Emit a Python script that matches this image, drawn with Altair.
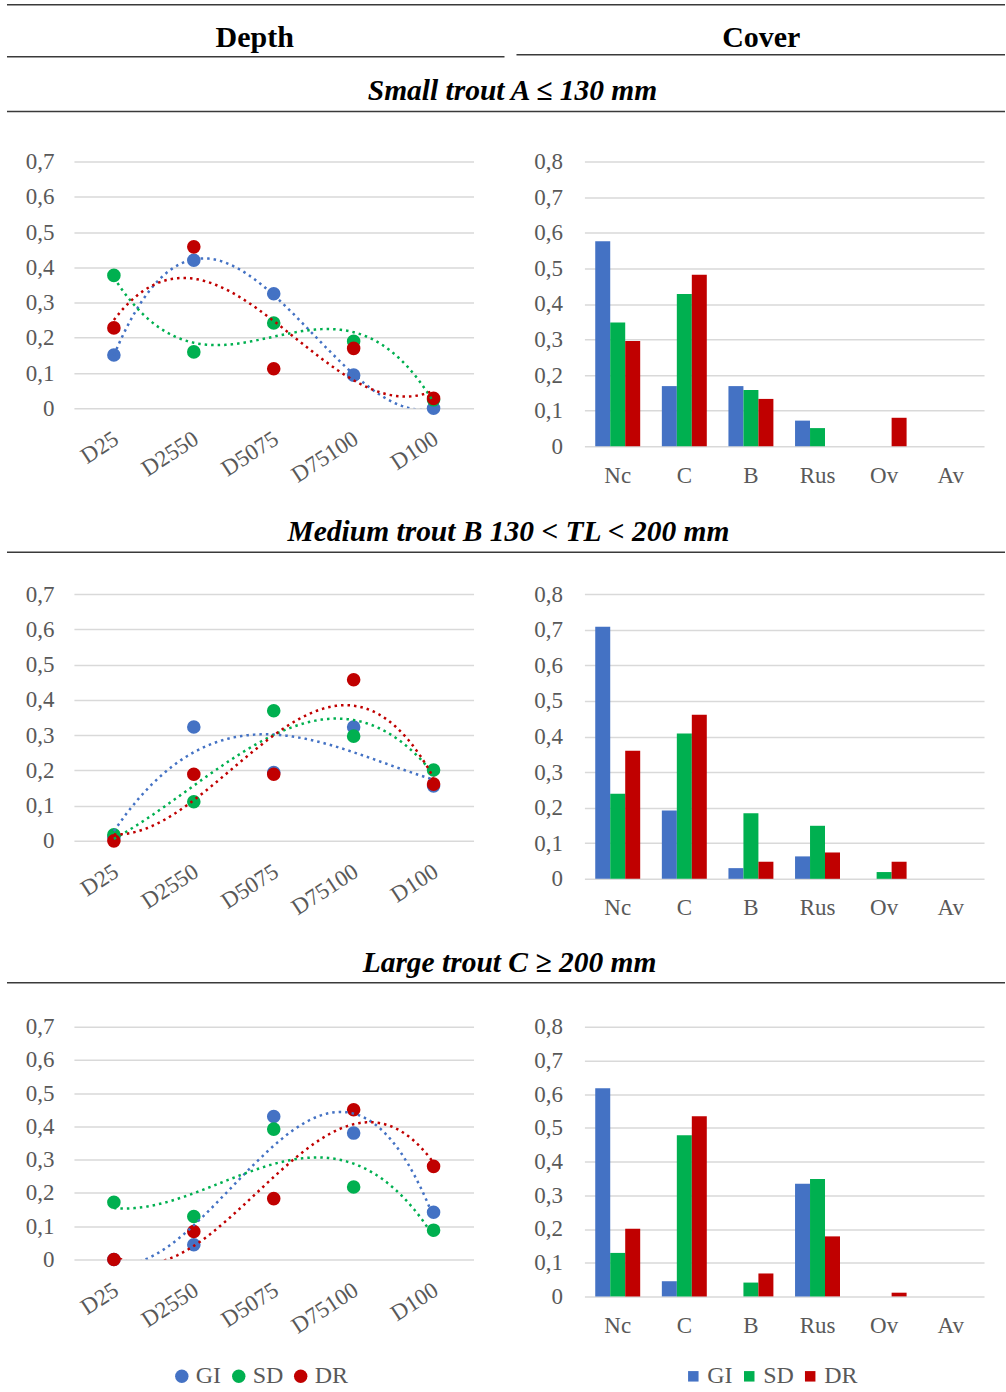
import json
import altair as alt
import pandas as pd

# ---------------- data ----------------
depth_cats = ["D25", "D2550", "D5075", "D75100", "D100"]
cover_cats = ["Nc", "C", "B", "Rus", "Ov", "Av"]
series_names = ["GI", "SD", "DR"]
series_colors = ["#4472C4", "#00B050", "#C00000"]
col_headers = ["Depth", "Cover"]
row_titles = ["Small trout A \u2264 130 mm",
              "Medium trout B 130 < TL < 200 mm",
              "Large trout C \u2265 200 mm"]
depth_ticks = [0, 0.1, 0.2, 0.3, 0.4, 0.5, 0.6, 0.7]
cover_ticks = [0, 0.1, 0.2, 0.3, 0.4, 0.5, 0.6, 0.7, 0.8]

small_depth_gi = [0.151, 0.420, 0.325, 0.094, 0.000]
small_depth_sd = [0.377, 0.160, 0.242, 0.190, 0.024]
small_depth_dr = [0.228, 0.458, 0.112, 0.170, 0.028]

medium_depth_gi = [0.010, 0.323, 0.194, 0.323, 0.156]
medium_depth_sd = [0.017, 0.111, 0.369, 0.297, 0.201]
medium_depth_dr = [0.000, 0.189, 0.189, 0.457, 0.161]

large_depth_gi = [0.000, 0.044, 0.430, 0.380, 0.142]
large_depth_sd = [0.172, 0.129, 0.392, 0.218, 0.088]
large_depth_dr = [0.000, 0.084, 0.183, 0.450, 0.280]

small_cover_gi = [0.576, 0.169, 0.169, 0.072, 0.000, 0.000]
small_cover_sd = [0.348, 0.428, 0.158, 0.051, 0.000, 0.000]
small_cover_dr = [0.296, 0.482, 0.133, 0.000, 0.080, 0.000]

medium_cover_gi = [0.708, 0.192, 0.030, 0.063, 0.000, 0.000]
medium_cover_sd = [0.239, 0.408, 0.184, 0.149, 0.019, 0.000]
medium_cover_dr = [0.360, 0.461, 0.048, 0.074, 0.048, 0.000]

large_cover_gi = [0.617, 0.045, 0.000, 0.334, 0.000, 0.000]
large_cover_sd = [0.129, 0.478, 0.041, 0.348, 0.000, 0.000]
large_cover_dr = [0.201, 0.534, 0.068, 0.178, 0.011, 0.000]

# ---------------- helpers ----------------
FONT = "Liberation Serif"
GRAY = "#595959"
RULE = "#3a3a3a"
X0 = 74  # page x of the left plots' origin
LBL = 23


def depth_df(gi, sd, dr):
    rows = []
    for s, vals in zip(series_names, [gi, sd, dr]):
        for i, (c, v) in enumerate(zip(depth_cats, vals)):
            rows.append({"pos": i + 1, "cat": c, "series": s, "value": v})
    return pd.DataFrame(rows)


def cover_df(gi, sd, dr):
    rows = []
    for s, vals in zip(series_names, [gi, sd, dr]):
        for c, v in zip(cover_cats, vals):
            rows.append({"cat": c, "series": s, "value": v})
    return pd.DataFrame(rows)


y_label_expr = "datum.value == 0 ? '0' : replace(format(datum.value, '.1f'), '.', ',')"
x_label_expr = json.dumps(depth_cats) + "[datum.value - 1]"


def color_enc(legend):
    return alt.Color("series:N", scale=alt.Scale(domain=series_names, range=series_colors),
                     legend=legend)


one = pd.DataFrame({"k": [0]})


def hrule(px1, px2, y):
    return alt.Chart(one).mark_rule(color=RULE, strokeWidth=1.5).encode(
        x=alt.value(px1 - X0), x2=alt.value(px2 - X0), y=alt.value(y))


def label(text, px, y, size, italic=False):
    return alt.Chart(pd.DataFrame({"t": [text]})).mark_text(
        font=FONT, fontSize=size, fontWeight="bold",
        fontStyle="italic" if italic else "normal",
        align="center", baseline="alphabetic", color="black").encode(
        text="t:N", x=alt.value(px - X0), y=alt.value(y))


def depth_chart(df, h, decor, legend=False):
    x = alt.X("pos:Q", title=None,
              scale=alt.Scale(domain=[0.5, 5.5], nice=False, zero=False),
              axis=alt.Axis(values=[1, 2, 3, 4, 5], labelExpr=x_label_expr, labelAngle=-33,
                            labelAlign="right", labelBaseline="top", labelPadding=19,
                            labelOffset=-4, grid=False, labelOverlap=False, labelFontSize=LBL))
    y = alt.Y("value:Q", title=None,
              scale=alt.Scale(domain=[0, 0.7], nice=False),
              axis=alt.Axis(values=depth_ticks, labelExpr=y_label_expr, grid=True,
                            labelPadding=20, labelFontSize=LBL))
    leg = None
    if legend:
        leg = alt.Legend(orient="none", legendX=96, legendY=338, direction="horizontal",
                         title=None, labelFont=FONT, labelFontSize=24, labelColor=GRAY,
                         symbolType="circle", symbolSize=180, symbolStrokeWidth=0,
                         columnPadding=5, labelOffset=2)
    pts = alt.Chart(df).mark_circle(size=185, opacity=1).encode(x=x, y=y, color=color_enc(leg))
    lines = (alt.Chart(df)
             .transform_regression("pos", "value", groupby=["series"], method="poly",
                                   order=3, extent=[1, 5])
             .mark_line(clip=True, strokeWidth=2.5, strokeDash=[2.5, 4])
             .encode(x=x, y=y, color=color_enc(None)))
    return alt.layer(pts, lines, *decor).properties(width=400, height=h)


def cover_chart(df, h, legend=False):
    x = alt.X("cat:N", title=None, sort=cover_cats,
              scale=alt.Scale(domain=cover_cats, paddingInner=0.325, paddingOuter=0.1625),
              axis=alt.Axis(labelAngle=0, labelPadding=18, labelFontSize=LBL, grid=False))
    y = alt.Y("value:Q", title=None,
              scale=alt.Scale(domain=[0, 0.8], nice=False),
              axis=alt.Axis(values=cover_ticks, labelExpr=y_label_expr, grid=True,
                            labelPadding=22, labelFontSize=LBL))
    leg = None
    if legend:
        leg = alt.Legend(orient="none", legendX=97, legendY=338, direction="horizontal",
                         title=None, labelFont=FONT, labelFontSize=24, labelColor=GRAY,
                         symbolType="square", symbolSize=110, symbolStrokeWidth=0,
                         columnPadding=4, labelOffset=2)
    return (alt.Chart(df).mark_bar()
            .encode(x=x, y=y,
                    xOffset=alt.XOffset("series:N", sort=series_names,
                                        scale=alt.Scale(domain=series_names,
                                                        paddingInner=0, paddingOuter=0)),
                    color=color_enc(leg))
            .properties(width=400, height=h))


# decorations (header/titles) drawn above each row's left plot; y is relative to plot top
TOP1, TOP2, TOP3 = 161, 594, 1027
TS = 29.5
decor1 = [
    hrule(7, 1006, 4 - TOP1),
    hrule(7, 505, 56 - TOP1),
    hrule(517, 1006, 54 - TOP1),
    hrule(7, 1006, 111 - TOP1),
    label(col_headers[0], 255, 46 - TOP1, 30),
    label(col_headers[1], 762, 46 - TOP1, 30),
    label(row_titles[0], 513, 99 - TOP1, TS, italic=True),
]
decor2 = [
    hrule(7, 1006, 552 - TOP2),
    label(row_titles[1], 509, 541 - TOP2, TS, italic=True),
]
decor3 = [
    hrule(7, 1006, 983 - TOP3),
    label(row_titles[2], 510, 972 - TOP3, TS, italic=True),
]

panels = [
    depth_chart(depth_df(small_depth_gi, small_depth_sd, small_depth_dr), 247, decor1),
    cover_chart(cover_df(small_cover_gi, small_cover_sd, small_cover_dr), 285),
    depth_chart(depth_df(medium_depth_gi, medium_depth_sd, medium_depth_dr), 247, decor2),
    cover_chart(cover_df(medium_cover_gi, medium_cover_sd, medium_cover_dr), 285),
    depth_chart(depth_df(large_depth_gi, large_depth_sd, large_depth_dr), 233, decor3, legend=True),
    cover_chart(cover_df(large_cover_gi, large_cover_sd, large_cover_dr), 270, legend=True),
]

chart = (alt.concat(*panels, columns=2, spacing={"row": 148, "column": 111}, bounds="flush")
         .resolve_scale(color="independent").resolve_legend(color="independent")
         .properties(padding={"left": 6, "top": 3, "right": 0, "bottom": 0},
                     background="white")
         .configure_view(stroke=None)
         .configure_axis(labelFont=FONT, labelColor=GRAY, gridColor="#d9d9d9", gridWidth=1.5,
                         domain=False, ticks=False))

chart.save("out.html", embed_options={"renderer": "svg", "actions": False})
